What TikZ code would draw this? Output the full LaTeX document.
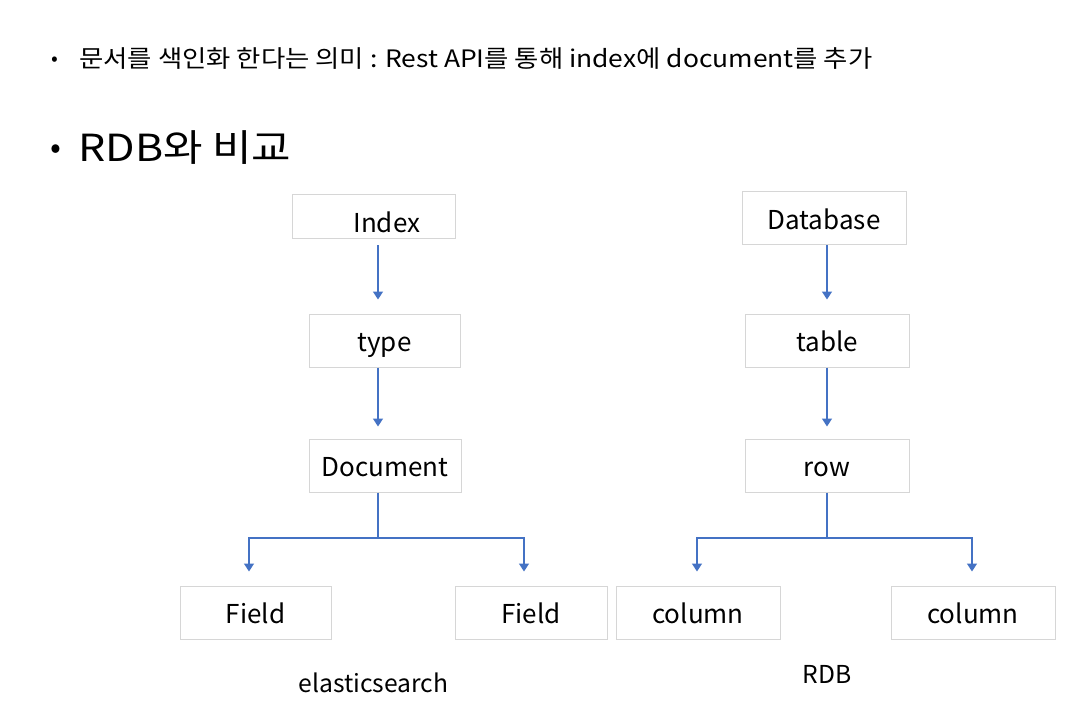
\documentclass[tikz,border=0pt]{standalone}
\usepackage{fontspec}
\setmainfont{Noto Sans CJK KR}
\newfontfamily\widefont[FakeStretch=1.1]{Noto Sans CJK KR}
\newfontfamily\headfont[FakeStretch=1.15]{Noto Sans CJK KR}
\usetikzlibrary{arrows.meta}
\definecolor{boxgray}{RGB}{214,214,214}
\definecolor{arrblue}{RGB}{68,114,196}
\tikzset{
  box/.style={draw=boxgray, line width=0.75pt, fill=white, inner sep=0pt,
    minimum height=39.75pt, text height=16.5pt, text depth=0pt,
    font=\fontsize{19.5pt}{23pt}\selectfont},
  arr/.style={draw=arrblue, line width=1.1pt,
    -{Triangle[width=7.5pt,length=6pt]}},
  lbl/.style={anchor=base, inner sep=0pt, font=\fontsize{18.5pt}{22pt}\selectfont},
}
\begin{document}
\begin{tikzpicture}[x=0.75pt, y=-0.75pt]
\useasboundingbox (0,0) rectangle (1068,706);
% header texts
\node[anchor=center, inner sep=0pt, font=\fontsize{15pt}{18pt}\selectfont] (b1) at (55,61) {•};
\node[anchor=base west, inner sep=0pt, font=\widefont\fontsize{18pt}{22pt}\selectfont] (t1) at (79,68)
  {문서를 색인화 한다는 의미 : Rest API를 통해 index에 document를 추가};
\node[anchor=center, inner sep=0pt, font=\fontsize{24pt}{28pt}\selectfont] (b2) at (56,152) {•};
\node[anchor=base west, inner sep=0pt, font=\headfont\fontsize{28pt}{34pt}\selectfont] (t2) at (78,162)
  {RDB와 비교};
% elasticsearch side
\node[box, minimum width=122.25pt, minimum height=33pt] (index) at (373.5,217) {\hspace*{20pt}\raisebox{-3.5pt}{Index}};
\node[box, minimum width=113.25pt] (type) at (384.5,340.5) {type};
\node[box, minimum width=114pt] (doc) at (385,465.5) {Document};
\node[box, minimum width=113.25pt] (f1) at (255.5,612.5) {Field};
\node[box, minimum width=114pt] (f2) at (531,612.5) {Field};
\node[lbl] (es) at (373.5,692) {elasticsearch};
% RDB side
\node[box, minimum width=123pt] (db) at (824,218.5) {Database};
\node[box, minimum width=123pt] (tbl) at (827,340.5) {table};
\node[box, minimum width=123pt] (row) at (827,465.5) {row};
\node[box, minimum width=123pt] (c1) at (698,612.5) {column};
\node[box, minimum width=123pt] (c2) at (973,612.5) {column};
\node[lbl] (rdb) at (827,683) {RDB};
% connector coordinates
\coordinate (ex) at (378,538);
\coordinate (rx) at (827,538);
\coordinate (f1x) at (249,0);
\coordinate (f2x) at (524,0);
\coordinate (c1x) at (697,0);
\coordinate (c2x) at (972,0);
% arrows left
\draw[arr, shorten <=4.5pt, shorten >=10.5pt] (index.south -| ex) -- (type.north -| ex);
\draw[arr, shorten >=9pt] (type.south -| ex) -- (doc.north -| ex);
\draw[arr, shorten >=10.5pt] (doc.south -| ex) -- (ex) -| (f1.north -| f1x);
\draw[arr, shorten >=10.5pt] (ex) -| (f2.north -| f2x);
% arrows right
\draw[arr, shorten >=10.5pt] (db.south -| rx) -- (tbl.north -| rx);
\draw[arr, shorten >=9pt] (tbl.south -| rx) -- (row.north -| rx);
\draw[arr, shorten >=10.5pt] (row.south -| rx) -- (rx) -| (c1.north -| c1x);
\draw[arr, shorten >=10.5pt] (rx) -| (c2.north -| c2x);
\end{tikzpicture}
\end{document}
